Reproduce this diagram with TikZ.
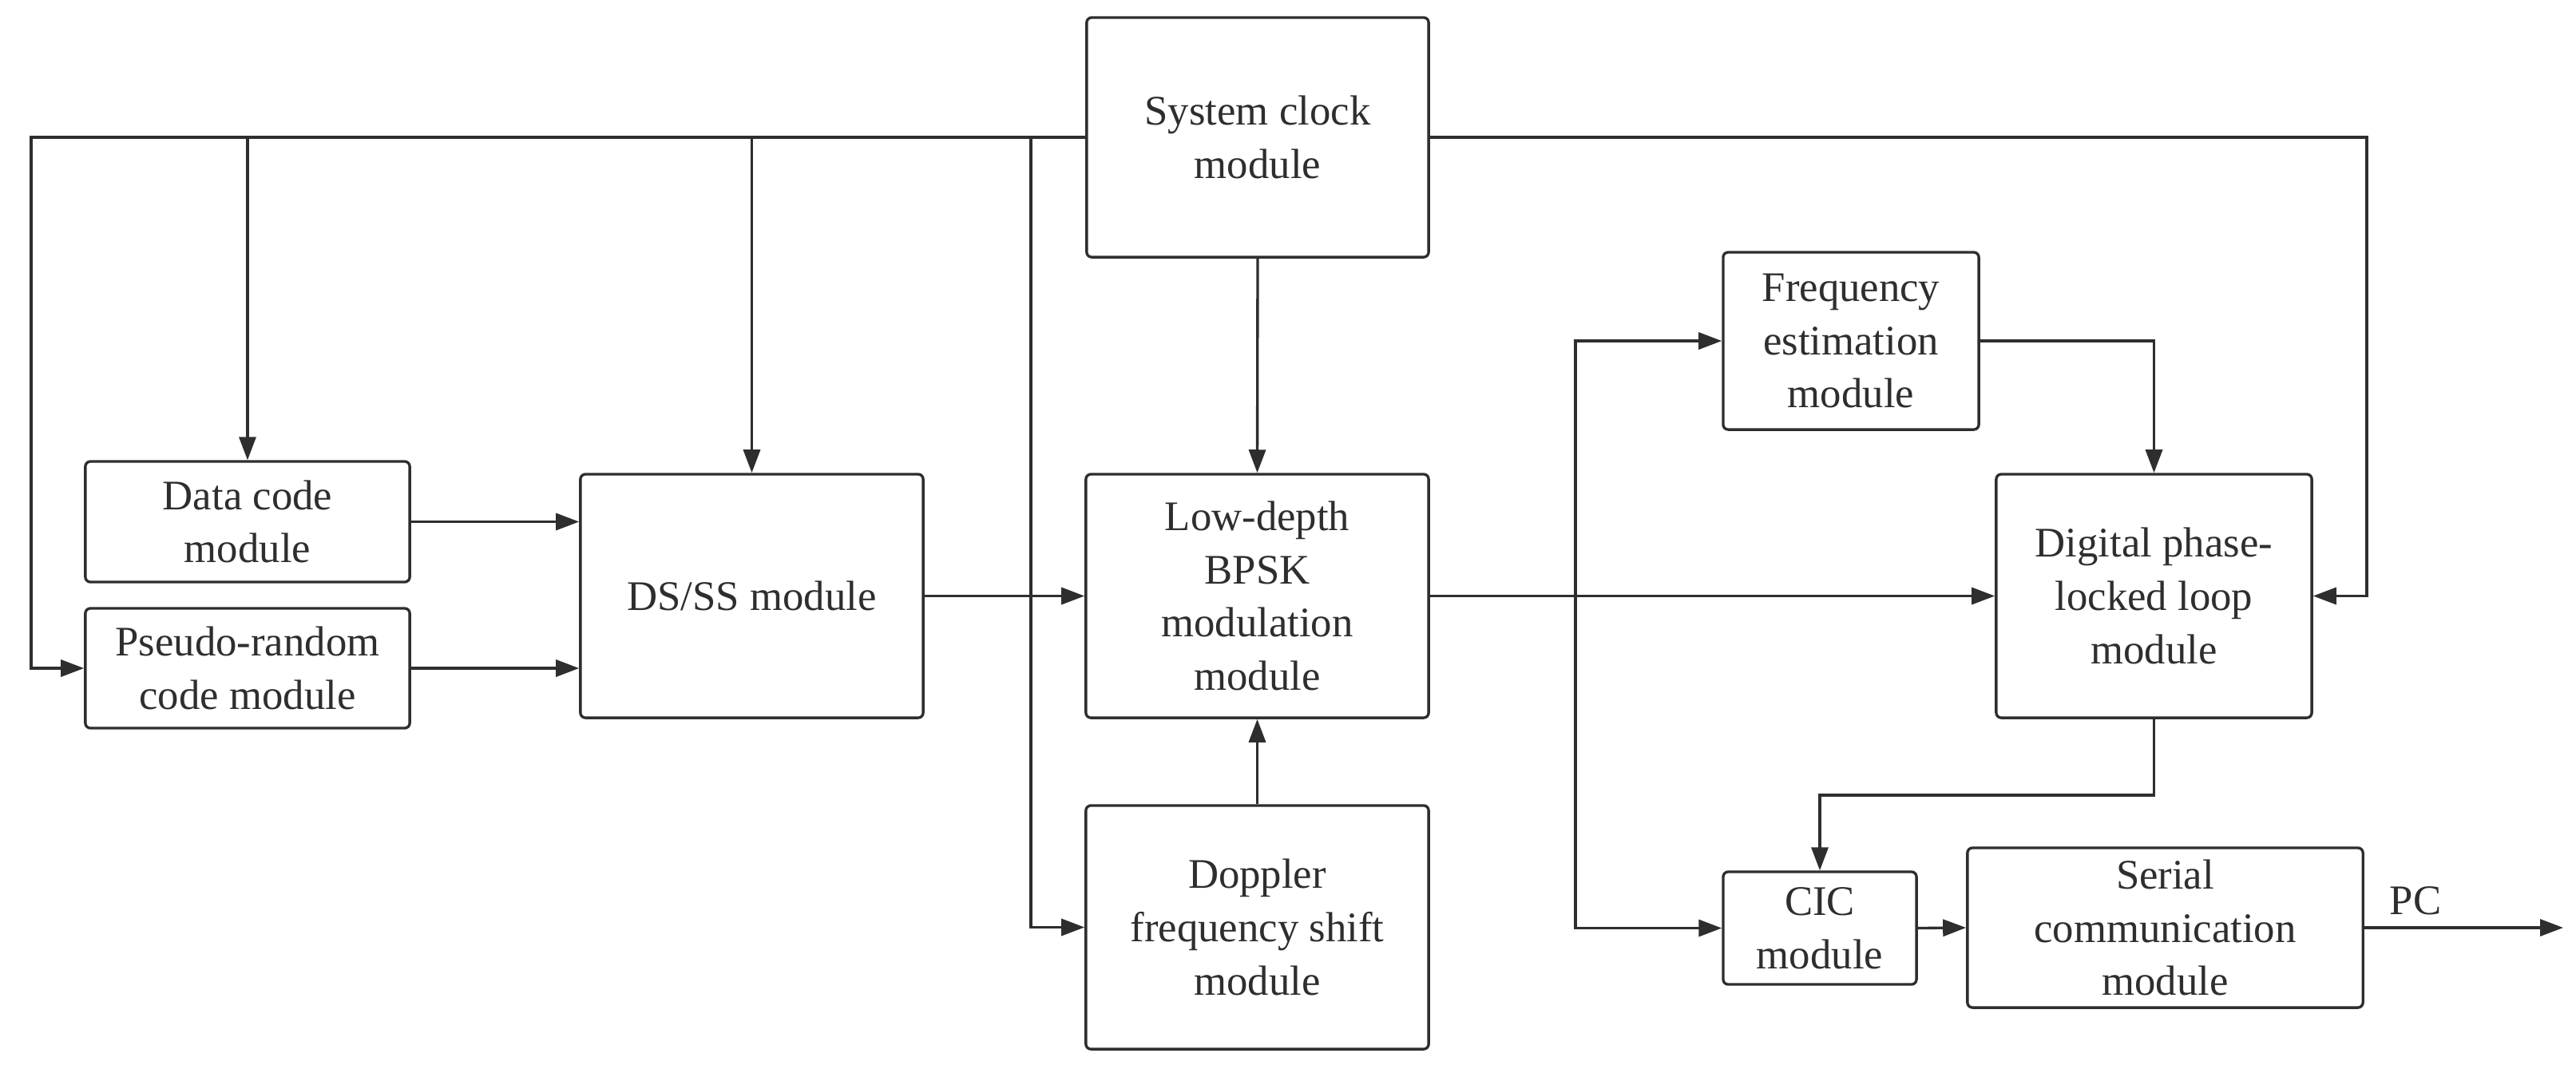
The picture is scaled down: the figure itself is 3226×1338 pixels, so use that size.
\documentclass[tikz,border=0pt]{standalone}
\usepackage{fontspec}
\setmainfont{Liberation Serif}
\usetikzlibrary{arrows.meta}
\definecolor{ink}{HTML}{2E2E2E}
\begin{document}
\begin{tikzpicture}[x=0.01cm,y=-0.01cm,
  box/.style={draw=ink, text=ink, line width=0.95pt, rounded corners=1.8pt, align=center,
    inner sep=0pt, font=\fontsize{15}{19}\selectfont},
  arr/.style={draw=ink, line width=0.95pt, -{Triangle[length=0.29cm,width=0.21cm]}},
  ln/.style={draw=ink, line width=0.95pt}]
\useasboundingbox (0,0) rectangle (3226,1338);
\fill[white] (0,0) rectangle (3226,1338);
% nodes
\node[box, minimum width=4.28cm, minimum height=3.00cm] (clk) at (1575,172) {System clock\\module};
\node[box, minimum width=4.06cm, minimum height=1.51cm] (data) at (310,653.5) {Data code\\module};
\node[box, minimum width=4.06cm, minimum height=1.50cm] (prn) at (310,837) {Pseudo-random\\code module};
\node[box, minimum width=4.29cm, minimum height=3.05cm] (dsss) at (941.5,746.5) {DS/SS module};
\node[box, minimum width=4.29cm, minimum height=3.05cm] (bpsk) at (1574.5,746.5) {Low-depth\\BPSK\\modulation\\module};
\node[box, minimum width=4.29cm, minimum height=3.05cm] (dop) at (1574.5,1161.5) {Doppler\\frequency shift\\module};
\node[box, minimum width=3.20cm, minimum height=2.22cm] (freq) at (2318,427) {Frequency\\estimation\\module};
\node[box, minimum width=3.95cm, minimum height=3.05cm] (pll) at (2697.5,746.5) {Digital phase-\\locked loop\\module};
\node[box, minimum width=2.42cm, minimum height=1.41cm] (cic) at (2279,1162.5) {CIC\\module};
\node[box, minimum width=4.95cm, minimum height=2.00cm] (ser) at (2711.5,1162) {Serial\\communication\\module};
\node[text=ink, font=\fontsize{15}{19}\selectfont, inner sep=0pt] (pc) at (3025,1128) {PC};
% coordinates
\coordinate (busL) at (39,172);
\coordinate (busR) at (2964,172);
\coordinate (dopx) at (1291,172);
\coordinate (jn) at (1973,746.5);
\coordinate (pk) at (2697.5,996);
\coordinate (pcend) at (3210,1162);
% connectors
\draw[arr] (clk.west) -- (busL) |- (prn.west);
\draw[arr] (data.north |- clk.west) -- (data.north);
\draw[arr] (dsss.north |- clk.west) -- (dsss.north);
\draw[arr] (dopx) |- (dop.west);
\draw[arr] (clk.east) -- (busR) |- (pll.east);
\draw[arr] (clk.south) -- (bpsk.north);
\draw[arr] (dop.north) -- (bpsk.south);
\draw[arr] (data.east) -- (data.east -| dsss.west);
\draw[arr] (prn.east) -- (prn.east -| dsss.west);
\draw[arr] (dsss.east) -- (bpsk.west);
\draw[arr] (bpsk.east) -- (pll.west);
\draw[arr] (jn) |- (freq.west);
\draw[arr] (jn) |- (cic.west);
\draw[arr] (freq.east) -| (pll.north);
\draw[arr] (pll.south) -- (pk) -| (cic.north);
\draw[arr] (cic.east) -- (ser.west);
\draw[arr] (ser.east) -- (pcend);
\end{tikzpicture}
\end{document}
